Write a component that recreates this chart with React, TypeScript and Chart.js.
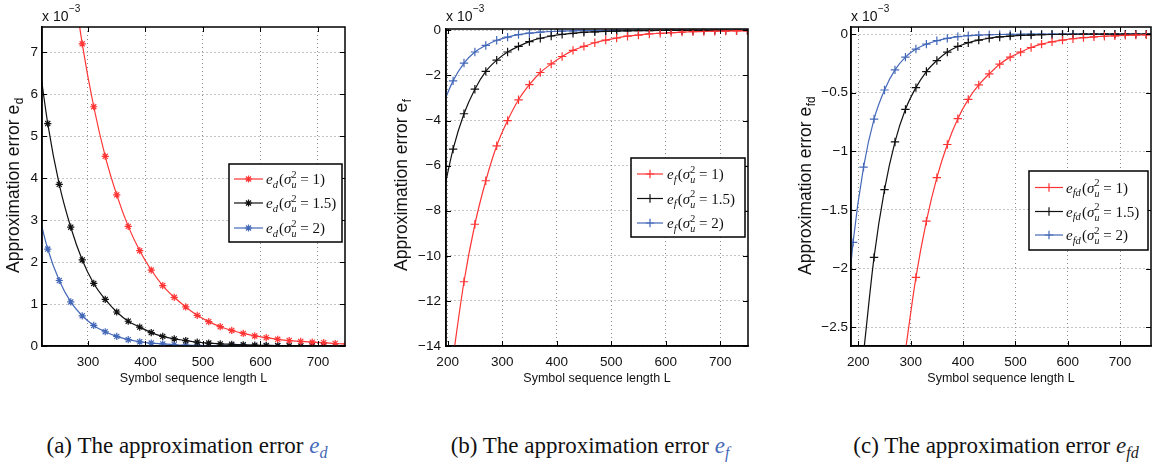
import React, { useEffect, useRef } from "react";
import { Chart, registerables } from "chart.js";

Chart.register(...registerables);

// ---------- data (values in units of 10^-3) ----------
const xValues = [170, 190, 210, 230, 250, 270, 290, 310, 330, 350, 370, 390, 410, 430, 450, 470, 490, 510, 530, 550, 570, 590, 610, 630, 650, 670, 690, 710, 730, 750, 770];

// (a) e_d
const edSigma1 = [null, null, null, null, null, 9.1, 7.2, 5.7, 4.52, 3.6, 2.85, 2.27, 1.81, 1.44, 1.16, 0.93, 0.73, 0.58, 0.46, 0.37, 0.3, 0.24, 0.2, 0.16, 0.13, 0.11, 0.09, 0.08, 0.06, 0.05, 0.04];
const edSigma15 = [null, null, 7.3, 5.3, 3.85, 2.83, 2.05, 1.49, 1.11, 0.81, 0.59, 0.45, 0.32, 0.23, 0.17, 0.13, 0.09, 0.07, 0.05, 0.04, 0.03, 0.02, 0.015, 0.01, 0.008, 0.006, 0.004, 0.003, 0.002, 0.002, 0.001];
const edSigma2 = [null, null, 3.4, 2.31, 1.56, 1.05, 0.72, 0.49, 0.34, 0.23, 0.15, 0.1, 0.07, 0.05, 0.03, 0.02, 0.015, 0.01, 0.007, 0.005, 0.003, 0.002, 0.002, 0.001, 0.001, 0.001, 0.001, 0.0005, 0.0005, 0.0005, 0.0005];

// (b) e_f
const efSigma1 = [null, null, -14.5, -11.15, -8.6, -6.67, -5.12, -4.0, -3.08, -2.41, -1.87, -1.49, -1.16, -0.89, -0.71, -0.55, -0.43, -0.34, -0.26, -0.21, -0.16, -0.13, -0.1, -0.08, -0.06, -0.05, -0.04, -0.03, -0.025, -0.02, -0.015];
const efSigma15 = [null, -7.48, -5.27, -3.7, -2.61, -1.82, -1.32, -0.96, -0.71, -0.5, -0.35, -0.25, -0.18, -0.13, -0.09, -0.065, -0.045, -0.03, -0.022, -0.015, -0.01, -0.007, -0.005, -0.004, -0.003, -0.002, -0.002, -0.001, -0.001, -0.001, -0.001];
const efSigma2 = [null, -3.36, -2.24, -1.45, -0.96, -0.67, -0.44, -0.3, -0.19, -0.12, -0.08, -0.05, -0.035, -0.02, -0.015, -0.01, -0.007, -0.005, -0.003, -0.002, -0.002, -0.001, -0.001, -0.001, -0.001, -0.001, -0.001, -0.001, -0.001, -0.001, -0.001];

// (c) e_fd
const efdSigma1 = [null, null, null, null, null, null, -2.7, -2.075, -1.596, -1.224, -0.942, -0.722, -0.557, -0.434, -0.34, -0.257, -0.197, -0.154, -0.115, -0.086, -0.066, -0.052, -0.04, -0.031, -0.024, -0.019, -0.015, -0.011, -0.009, -0.007, -0.005];
const efdSigma15 = [null, null, -2.72, -1.904, -1.327, -0.92, -0.642, -0.457, -0.32, -0.226, -0.154, -0.106, -0.074, -0.052, -0.036, -0.025, -0.018, -0.012, -0.009, -0.006, -0.004, -0.003, -0.002, -0.0015, -0.001, -0.001, -0.001, -0.001, -0.001, -0.001, -0.001];
const efdSigma2 = [-2.79, -1.776, -1.134, -0.725, -0.477, -0.306, -0.197, -0.128, -0.086, -0.057, -0.037, -0.022, -0.014, -0.009, -0.006, -0.004, -0.003, -0.002, -0.001, -0.001, -0.001, -0.001, -0.001, -0.001, -0.001, -0.001, -0.001, -0.001, -0.001, -0.001, -0.001];

// ticks
const aXTicks = [300, 400, 500, 600, 700];
const aYTicks = [0, 1, 2, 3, 4, 5, 6, 7];
const bXTicks = [200, 300, 400, 500, 600, 700];
const bYTicks = [0, -2, -4, -6, -8, -10, -12, -14];
const cXTicks = [200, 300, 400, 500, 600, 700];
const cYTicks = [0, -0.5, -1, -1.5, -2, -2.5];

const sigmaValues = ["1", "1.5", "2"];
const xTitle = "Symbol sequence length L";
const yTitleMain = "Approximation error e";
const captionMain = "The approximation error ";

// ---------- styles ----------
const RED = "#ff3535";
const BLACK = "#111111";
const BLUE = "#4468b8";
const SANS = '"Liberation Sans", Arial, Helvetica, sans-serif';
const SERIF = '"Liberation Serif", "Times New Roman", serif';
const H = 400;

function fmtTick(v: number) {
  if (v === 0) return "0";
  return v < 0 ? "\u2212" + String(Math.abs(v)) : String(v);
}

function drawMarker(ctx: CanvasRenderingContext2D, style: string, x: number, y: number, r: number) {
  ctx.beginPath();
  ctx.moveTo(x - r, y);
  ctx.lineTo(x + r, y);
  ctx.moveTo(x, y - r);
  ctx.lineTo(x, y + r);
  if (style === "star") {
    const d = r * Math.SQRT1_2;
    ctx.moveTo(x - d, y - d);
    ctx.lineTo(x + d, y + d);
    ctx.moveTo(x - d, y + d);
    ctx.lineTo(x + d, y - d);
  }
  ctx.stroke();
}

type Run = { t: string; italic?: boolean; size: number; dy: number; advance?: boolean; extra?: number };
function drawRuns(ctx: CanvasRenderingContext2D, runs: Run[], x: number, y: number) {
  let cx = x;
  for (const r of runs) {
    ctx.font = `${r.italic ? "italic " : ""}${r.size}px ${SERIF}`;
    ctx.fillText(r.t, cx, y + r.dy);
    const w = ctx.measureText(r.t).width;
    if (r.advance !== false) cx += w + (r.extra || 0);
  }
}

const decorPlugin = {
  id: "decor",
  afterDatasetsDraw(chart: any, _args: any, opts: any) {
    const ctx: CanvasRenderingContext2D = chart.ctx;
    const { left, right, top, bottom } = chart.chartArea;
    const xs = chart.scales.x;
    const ys = chart.scales.y;
    ctx.save();
    // inward tick marks on all four sides
    ctx.strokeStyle = "#000";
    ctx.lineWidth = 1;
    ctx.beginPath();
    xs.ticks.forEach((t: any) => {
      const px = Math.round(xs.getPixelForValue(t.value)) + 0.5;
      ctx.moveTo(px, bottom);
      ctx.lineTo(px, bottom - 5);
      ctx.moveTo(px, top);
      ctx.lineTo(px, top + 5);
    });
    ys.ticks.forEach((t: any) => {
      const py = Math.round(ys.getPixelForValue(t.value)) + 0.5;
      ctx.moveTo(left, py);
      ctx.lineTo(left + 5, py);
      ctx.moveTo(right, py);
      ctx.lineTo(right - 5, py);
    });
    ctx.stroke();
    // box
    ctx.lineWidth = 1.5;
    ctx.strokeRect(left, top, right - left, bottom - top);

    // legend
    const lg = opts.legend;
    const [bx1, by1, bx2, by2] = lg.box;
    ctx.fillStyle = "#fff";
    ctx.fillRect(bx1, by1, bx2 - bx1, by2 - by1);
    ctx.strokeStyle = "#000";
    ctx.lineWidth = 1.5;
    ctx.strokeRect(bx1, by1, bx2 - bx1, by2 - by1);
    chart.data.datasets.forEach((ds: any, i: number) => {
      const ry = lg.rows[i];
      ctx.strokeStyle = ds.borderColor;
      ctx.lineWidth = 1.2;
      ctx.beginPath();
      ctx.moveTo(lg.line[0], ry);
      ctx.lineTo(lg.line[1], ry);
      ctx.stroke();
      drawMarker(ctx, opts.marker, (lg.line[0] + lg.line[1]) / 2, ry, opts.markerRadius);
      ctx.fillStyle = "#111";
      ctx.textAlign = "left";
      ctx.textBaseline = "alphabetic";
      drawRuns(
        ctx,
        [
          { t: "e", italic: true, size: 15, dy: 0 },
          { t: opts.sub, italic: true, size: 10.5, dy: 3.5, extra: 1.2 },
          { t: "(", size: 15, dy: 0 },
          { t: "\u03c3", italic: true, size: 15, dy: 0 },
          { t: "2", size: 10, dy: -6.5, advance: false },
          { t: "u", italic: true, size: 10, dy: 4 },
          { t: " = " + sigmaValues[i] + ")", size: 15, dy: 0 },
        ],
        lg.textX,
        ry + 5
      );
    });

    // y title with subscript
    const yt = opts.yTitle;
    ctx.save();
    ctx.translate(yt.x, yt.y);
    ctx.rotate(-Math.PI / 2);
    ctx.fillStyle = "#111";
    ctx.textAlign = "left";
    ctx.textBaseline = "middle";
    ctx.font = `${yt.size}px ${SANS}`;
    ctx.fillText(yTitleMain, 0, 0);
    const w = ctx.measureText(yTitleMain).width;
    ctx.font = `${yt.size * 0.68}px ${SANS}`;
    ctx.fillText(opts.sub, w + 0.5, yt.size * 0.33);
    ctx.restore();

    // x 10^-3
    const ex = opts.expo;
    ctx.fillStyle = "#111";
    ctx.textAlign = "left";
    ctx.textBaseline = "alphabetic";
    ctx.font = `14px ${SANS}`;
    ctx.fillText("x 10", ex.x, ex.y);
    const ew = ctx.measureText("x 10").width;
    ctx.font = `10px ${SANS}`;
    ctx.fillText("\u22123", ex.x + ew + 0.5, ex.y - 9);
    ctx.restore();
  },
};

type PanelCfg = {
  left: number;
  width: number;
  area: { l: number; r: number; t: number; b: number };
  xMin: number;
  xMax: number;
  yMin: number;
  yMax: number;
  xTicks: number[];
  yTicks: number[];
  yTickPad: number;
  marker: string;
  markerRadius: number;
  series: { values: (number | null)[]; color: string }[];
  sub: string;
  yTitle: { x: number; y: number; size: number };
  expo: { x: number; y: number };
  legend: { box: number[]; rows: number[]; line: number[]; textX: number };
};

const panelA: PanelCfg = {
  left: 0,
  width: 380,
  area: { l: 42, r: 345, t: 27, b: 346 },
  xMin: 220, xMax: 747, yMin: 0, yMax: 7.6,
  xTicks: aXTicks, yTicks: aYTicks, yTickPad: 4,
  marker: "star", markerRadius: 3.6,
  series: [
    { values: edSigma1, color: RED },
    { values: edSigma15, color: BLACK },
    { values: edSigma2, color: BLUE },
  ],
  sub: "d",
  yTitle: { x: 14, y: 273, size: 17.5 },
  expo: { x: 42, y: 21 },
  legend: { box: [229, 164, 342, 242], rows: [179, 203, 228], line: [234, 263], textX: 266 },
};

const panelB: PanelCfg = {
  left: 380,
  width: 385,
  area: { l: 66, r: 368, t: 29, b: 346 },
  xMin: 197, xMax: 751, yMin: -14, yMax: 0.06,
  xTicks: bXTicks, yTicks: bYTicks, yTickPad: 5,
  marker: "cross", markerRadius: 4.2,
  series: [
    { values: efSigma1, color: RED },
    { values: efSigma15, color: BLACK },
    { values: efSigma2, color: BLUE },
  ],
  sub: "f",
  yTitle: { x: 22, y: 271, size: 17.5 },
  expo: { x: 66, y: 21 },
  legend: { box: [251, 158, 365, 237], rows: [174, 198.5, 223], line: [257, 283], textX: 287 },
};

const panelC: PanelCfg = {
  left: 765,
  width: 392,
  area: { l: 86, r: 386, t: 27, b: 346 },
  xMin: 186, xMax: 759, yMin: -2.66, yMax: 0.06,
  xTicks: cXTicks, yTicks: cYTicks, yTickPad: 3,
  marker: "cross", markerRadius: 4.2,
  series: [
    { values: efdSigma1, color: RED },
    { values: efdSigma15, color: BLACK },
    { values: efdSigma2, color: BLUE },
  ],
  sub: "fd",
  yTitle: { x: 41, y: 275, size: 17.5 },
  expo: { x: 86, y: 21 },
  legend: { box: [264, 171, 383, 250], rows: [187.5, 211.5, 235], line: [270, 298], textX: 301 },
};

function makeConfig(p: PanelCfg): any {
  const tickFont = { family: SANS, size: 13.5 };
  return {
    type: "line",
    data: {
      datasets: p.series.map((s) => ({
        data: xValues.map((x, i) => ({ x, y: s.values[i] })),
        borderColor: s.color,
        backgroundColor: s.color,
        pointBorderColor: s.color,
        pointBackgroundColor: s.color,
        borderWidth: 1.2,
        pointStyle: p.marker,
        pointRadius: p.markerRadius,
        pointHoverRadius: p.markerRadius,
        pointBorderWidth: 1.2,
        cubicInterpolationMode: "monotone",
        fill: false,
        spanGaps: false,
      })),
    },
    options: {
      responsive: false,
      animation: false,
      devicePixelRatio: 1,
      events: [],
      layout: { padding: { left: 0, right: p.width - p.area.r, top: p.area.t, bottom: 0 } },
      plugins: {
        legend: { display: false },
        tooltip: { enabled: false },
        decor: {
          legend: p.legend,
          marker: p.marker,
          markerRadius: p.markerRadius,
          sub: p.sub,
          yTitle: p.yTitle,
          expo: p.expo,
        },
      },
      scales: {
        x: {
          type: "linear",
          min: p.xMin,
          max: p.xMax,
          afterBuildTicks: (s: any) => {
            s.ticks = p.xTicks.map((v) => ({ value: v }));
          },
          afterFit: (s: any) => {
            s.height = H - p.area.b;
          },
          ticks: { font: tickFont, color: "#111", padding: 8, maxRotation: 0, autoSkip: false, callback: (v: any) => fmtTick(Number(v)) },
          grid: { color: "#8a8a8a", lineWidth: 1, drawTicks: false },
          border: { display: true, color: "#000", width: 1.5, dash: [1, 3] },
          title: { display: true, text: xTitle, color: "#111", font: { family: SANS, size: 12.5 }, padding: { top: 0, bottom: 14 } },
        },
        y: {
          type: "linear",
          min: p.yMin,
          max: p.yMax,
          afterBuildTicks: (s: any) => {
            s.ticks = p.yTicks.map((v) => ({ value: v }));
          },
          afterFit: (s: any) => {
            s.width = p.area.l;
          },
          ticks: { font: tickFont, color: "#111", padding: p.yTickPad, autoSkip: false, callback: (v: any) => fmtTick(Number(v)) },
          grid: { color: "#8a8a8a", lineWidth: 1, drawTicks: false },
          border: { display: true, color: "#000", width: 1.5, dash: [1, 3] },
          title: { display: false },
        },
      },
    },
    plugins: [decorPlugin],
  };
}

function Panel({ cfg }: { cfg: PanelCfg }) {
  const ref = useRef<HTMLCanvasElement>(null);
  useEffect(() => {
    const chart = new Chart(ref.current as HTMLCanvasElement, makeConfig(cfg));
    return () => chart.destroy();
  }, [cfg]);
  return (
    <canvas
      ref={ref}
      width={cfg.width}
      height={H}
      style={{ position: "absolute", left: cfg.left, top: 0, width: cfg.width, height: H }}
    />
  );
}

function Caption({ label, sub, center, color }: { label: string; sub: string; center: number; color: string }) {
  return (
    <div
      style={{
        position: "absolute",
        left: center - 220,
        width: 440,
        top: 431,
        textAlign: "center",
        fontFamily: SERIF,
        fontSize: 23,
        lineHeight: "30px",
        color: "#111",
        whiteSpace: "nowrap",
      }}
    >
      {label} {captionMain}
      <span style={{ color, fontStyle: "italic" }}>
        e<span style={{ fontSize: "0.7em", position: "relative", top: "0.3em" }}>{sub}</span>
      </span>
    </div>
  );
}

export default function App() {
  return (
    <div style={{ position: "absolute", left: 0, top: 0, width: 1157, height: 467, background: "#fff", overflow: "hidden" }}>
      <Panel cfg={panelA} />
      <Panel cfg={panelB} />
      <Panel cfg={panelC} />
      <Caption label="(a)" sub="d" center={187} color={BLUE} />
      <Caption label="(b)" sub="f" center={590} color={BLUE} />
      <Caption label="(c)" sub="fd" center={996} color="#222" />
    </div>
  );
}
